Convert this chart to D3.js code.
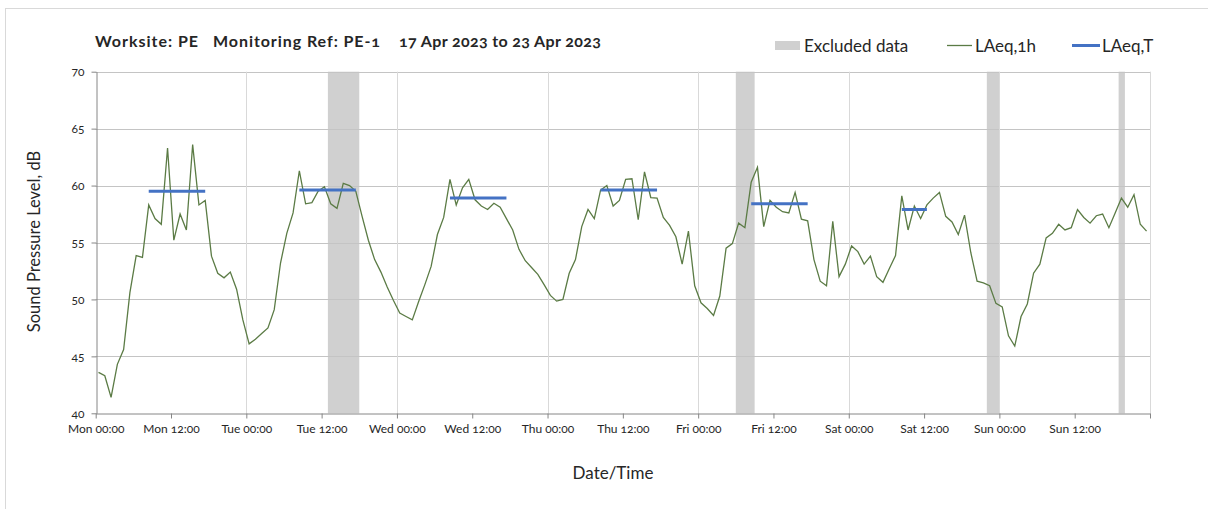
<!doctype html>
<html>
  <head>
    <script src="https://cdnjs.cloudflare.com/ajax/libs/d3/7.8.5/d3.min.js"></script>
    <style>
      body { margin: 0; background: #fff; }
      svg text { font-family: Lato, "Open Sans", sans-serif; font-variant-numeric: oldstyle-nums; fill: #262626; }
    </style>
  </head>
  <body>
    <svg id="chart" width="1208" height="509"></svg>

    <script>
        // hourly LAeq,1h values, Mon 17 Apr 00:00 onwards
        var laeq1h = [
            43.6, 43.3, 41.4, 44.3, 45.6, 50.6, 53.85, 53.7, 58.3, 57.1, 56.6, 63.3,
            55.2, 57.5, 56.1, 63.6, 58.3, 58.7, 53.8, 52.3, 51.9, 52.4, 50.9, 48.2,
            46.1, 46.5, 47.0, 47.5, 49.1, 53.2, 55.8, 57.6, 61.3, 58.4, 58.5, 59.5,
            59.9, 58.4, 58.0, 60.2, 60.0, 59.5, 57.3, 55.2, 53.5, 52.4, 51.1, 49.9,
            48.8, 48.5, 48.2, 49.8, 51.3, 52.9, 55.7, 57.2, 60.55, 58.3, 59.8, 60.55,
            58.75, 58.2, 57.9, 58.45, 58.1, 57.1, 56.1, 54.4, 53.4, 52.8, 52.2, 51.3,
            50.35, 49.85, 50.0, 52.3, 53.5, 56.4, 57.9, 57.1, 59.6, 60.0, 58.2, 58.7,
            60.55, 60.6, 57.0, 61.2, 58.95, 58.9, 57.2, 56.5, 55.5, 53.1, 56.0, 51.2,
            49.7, 49.2, 48.6, 50.3, 54.5, 54.9, 56.7, 56.3, 60.3, 61.6, 56.4, 58.7,
            58.1, 57.7, 57.6, 59.4, 57.05, 56.9, 53.5, 51.6, 51.2, 56.85, 52.0, 53.1,
            54.7, 54.2, 53.1, 53.8, 52.0, 51.5, 52.7, 53.85, 59.1, 56.1, 58.2, 57.1,
            58.3, 58.9, 59.4, 57.3, 56.8, 55.7, 57.4, 54.1, 51.6, 51.45, 51.2, 49.65,
            49.35, 46.8, 45.9, 48.5, 49.6, 52.3, 53.1, 55.4, 55.8, 56.6, 56.1, 56.3,
            57.9, 57.2, 56.7, 57.35, 57.5, 56.3, 57.6, 58.9, 58.1, 59.2, 56.6, 56.0
        ];

        // LAeq,T periods (first and last hour of each period)
        var periodFrom = ["2023-04-17 08:00", "2023-04-18 08:00", "2023-04-19 08:00", "2023-04-20 08:00", "2023-04-21 08:00", "2023-04-22 08:00"];
        var periodTo   = ["2023-04-17 17:00", "2023-04-18 17:00", "2023-04-19 17:00", "2023-04-20 17:00", "2023-04-21 17:00", "2023-04-22 12:00"];
        var laeqT      = [59.5, 59.6, 58.9, 59.6, 58.4, 57.9];

        // excluded data windows
        var excludedFrom = ["2023-04-18 13:00", "2023-04-21 06:00", "2023-04-22 22:00", "2023-04-23 19:00"];
        var excludedTo   = ["2023-04-18 18:00", "2023-04-21 09:00", "2023-04-23 00:00", "2023-04-23 20:00"];

        var yTicks = [40, 45, 50, 55, 60, 65, 70];
        var legendLabels = ["Excluded data", "LAeq,1h", "LAeq,T"];

        var parse = d3.timeParse("%Y-%m-%d %H:%M");
        var start = new Date(2023, 3, 17);
        var end = new Date(2023, 3, 24);
        var mid = t => d3.timeMinute.offset(t, 27);

        var pLeft = 95.7, pRight = 1150, pTop = 71.7, pBottom = 413.3;

        var x = d3.scaleTime().domain([start, end]).range([pLeft, pRight]);
        var y = d3.scaleLinear().domain([40, 70]).range([pBottom, pTop]);

        var svg = d3.select("#chart");

        // outer chart border
        svg.append("rect")
            .attr("x", 5.5).attr("y", 8.5)
            .attr("width", 1220).attr("height", 520)
            .style("fill", "none").style("stroke", "#d9d9d9");

        // title
        var title = svg.append("g").style("font-weight", "bold").style("font-size", "16px");
        title.append("text").attr("x", 95).attr("y", 47).attr("textLength", 103).text("Worksite: PE");
        title.append("text").attr("x", 213).attr("y", 47).attr("textLength", 167).text("Monitoring Ref: PE-1");
        title.append("text").attr("x", 399).attr("y", 47).attr("textLength", 202).text("17 Apr 2023 to 23 Apr 2023");

        // excluded bands
        svg.append("g").selectAll("rect")
            .data(excludedFrom.map((d, i) => [parse(d), parse(excludedTo[i])]))
            .enter().append("rect")
                .attr("x", d => x(d[0]))
                .attr("width", d => x(d[1]) - x(d[0]))
                .attr("y", pTop)
                .attr("height", pBottom - pTop)
                .style("fill", "#d0d0d0");

        // gridlines
        svg.append("g").selectAll("line")
            .data(yTicks.slice(1))
            .enter().append("line")
                .attr("x1", pLeft).attr("x2", pRight)
                .attr("y1", d => Math.round(y(d)) + 0.5).attr("y2", d => Math.round(y(d)) + 0.5)
                .style("stroke", "#c4c4c4");

        svg.append("g").selectAll("line")
            .data(d3.timeDay.range(d3.timeDay.offset(start, 1), d3.timeDay.offset(end, 1)))
            .enter().append("line")
                .attr("x1", d => Math.round(x(d)) + 0.5).attr("x2", d => Math.round(x(d)) + 0.5)
                .attr("y1", pTop).attr("y2", pBottom)
                .style("stroke", "#d9d9d9");

        // axes
        var xAxis = d3.axisBottom(x)
            .tickValues(d3.timeHour.every(12).range(start, d3.timeHour.offset(end, 1)))
            .tickFormat(d => +d < +end ? d3.timeFormat("%a %H:%M")(d) : "")
            .tickSize(5).tickSizeOuter(0).tickPadding(6);

        var gx = svg.append("g")
            .attr("transform", "translate(0," + (Math.round(pBottom) + 0.5) + ")")
            .call(xAxis);

        var yAxis = d3.axisLeft(y)
            .tickValues(yTicks)
            .tickSize(5).tickSizeOuter(0).tickPadding(7);

        var gy = svg.append("g")
            .attr("transform", "translate(" + (Math.round(pLeft) + 0.5) + ",0)")
            .call(yAxis);

        [gx, gy].forEach(g => {
            g.selectAll("path, line").style("stroke", "#868686");
            g.selectAll("text").style("font-size", "12px").style("fill", "#262626")
                .style("font-family", "Lato, sans-serif");
        });

        // LAeq,1h line
        var line = d3.line()
            .x((d, i) => x(mid(d3.timeHour.offset(start, i))))
            .y(d => y(d));

        svg.append("path")
            .datum(laeq1h)
            .attr("d", line)
            .style("fill", "none")
            .style("stroke", "#5b7b45")
            .style("stroke-width", 1.3);

        // LAeq,T lines
        svg.append("g").selectAll("line")
            .data(laeqT)
            .enter().append("line")
                .attr("x1", (d, i) => x(mid(parse(periodFrom[i]))))
                .attr("x2", (d, i) => x(mid(parse(periodTo[i]))))
                .attr("y1", d => y(d)).attr("y2", d => y(d))
                .style("stroke", "#4472c4")
                .style("stroke-width", 3);

        // axis titles
        svg.append("text")
            .attr("transform", "translate(40," + ((pTop + pBottom) / 2 - 1) + ") rotate(-90)")
            .attr("text-anchor", "middle")
            .style("font-size", "16.5px")
            .text("Sound Pressure Level, dB");

        svg.append("text")
            .attr("x", 613).attr("y", 479)
            .attr("text-anchor", "middle")
            .style("font-size", "17px")
            .text("Date/Time");

        // legend
        var legend = svg.append("g").style("font-size", "17px");
        legend.append("rect").attr("x", 775).attr("y", 41).attr("width", 25).attr("height", 9).style("fill", "#d0d0d0");
        legend.append("text").attr("x", 804).attr("y", 52).text(legendLabels[0]);
        legend.append("line").attr("x1", 947).attr("x2", 972).attr("y1", 45.5).attr("y2", 45.5)
            .style("stroke", "#5b7b45").style("stroke-width", 1.3);
        legend.append("text").attr("x", 975).attr("y", 52).text(legendLabels[1]);
        legend.append("line").attr("x1", 1072).attr("x2", 1100).attr("y1", 45.5).attr("y2", 45.5)
            .style("stroke", "#4472c4").style("stroke-width", 3);
        legend.append("text").attr("x", 1102).attr("y", 52).text(legendLabels[2]);
    </script>
  </body>
</html>
